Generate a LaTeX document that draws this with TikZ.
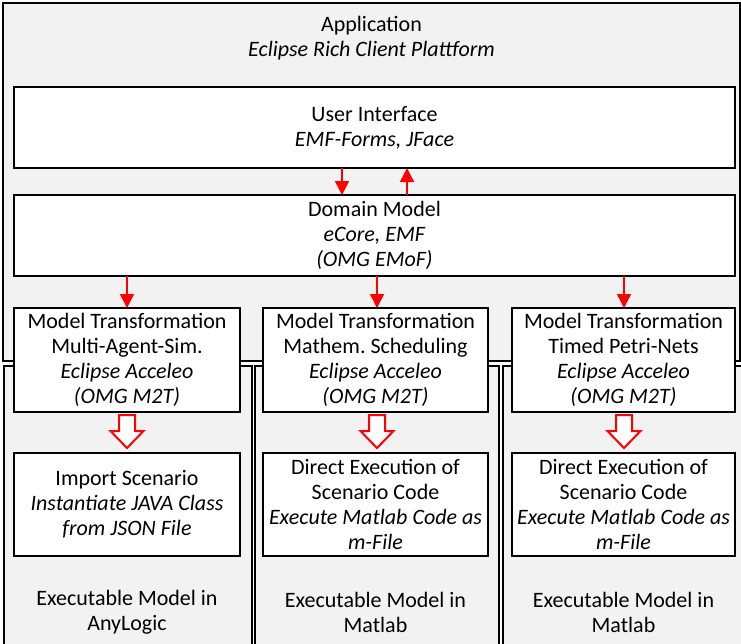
\documentclass[tikz,border=0pt]{standalone}
\usepackage{fontspec}
\setmainfont{Carlito}
\usetikzlibrary{arrows.meta,calc}
\definecolor{appgray}{HTML}{F2F2F2}
\definecolor{arrred}{HTML}{FF0000}
\frenchspacing
\begin{document}
\begin{tikzpicture}[x=1pt,y=-1pt,
  every node/.style={font=\fontsize{22}{25}\selectfont, align=center, inner sep=0pt, outer sep=0pt},
  frame/.style={draw=black, line width=2pt, fill=appgray},
  box/.style={draw=black, line width=2pt, fill=white},
  link/.style={draw=arrred, line width=1.5pt, -{Triangle[width=14pt,length=14pt]}},
  hollow/.style={draw=arrred, line width=2pt, fill=white, line join=miter},
  blockarrow/.pic={\draw[hollow] (-8,0) -- (8,0) -- (8,16) -- (16.5,16) -- (0,33) -- (-16.5,16) -- (-8,16) -- cycle;}]
\useasboundingbox (0,0) rectangle (741,643);
\clip (0,0) rectangle (741,643);
\fill[white] (0,0) rectangle (741,643);
% containers
\node[frame, minimum width=737, minimum height=358] (app) at (371.5,182) {};
\node (apptitle) at (371.5,38) {Application\\\textit{Eclipse Rich Client Plattform}};
\node[frame, minimum width=248, minimum height=300] (col1) at (128,516) {};
\node[frame, minimum width=244, minimum height=300] (col2) at (377,516) {};
\node[frame, minimum width=257, minimum height=300] (col3) at (631.5,516) {};
\node (lab1) at (127,612) {Executable Model in\\AnyLogic};
\node (lab2) at (375.5,612) {Executable Model in\\Matlab};
\node (lab3) at (623.5,612) {Executable Model in\\Matlab};
% boxes
\node[box, minimum width=721, minimum height=81] (ui) at (374.5,127.5) {User Interface\\\textit{EMF-Forms, JFace}};
\node[box, minimum width=721, minimum height=81] (dm) at (374.5,235.5) {Domain Model\\\textit{eCore, EMF}\\\textit{(OMG EMoF)}};
\node[box, minimum width=226, minimum height=104] (mt1) at (127,360) {Model Transformation\\Multi-Agent-Sim.\\\textit{Eclipse Acceleo}\\\textit{(OMG M2T)}};
\node[box, minimum width=225, minimum height=104] (mt2) at (375.5,360) {Model Transformation\\Mathem. Scheduling\\\textit{Eclipse Acceleo}\\\textit{(OMG M2T)}};
\node[box, minimum width=223, minimum height=104] (mt3) at (623.5,360) {Model Transformation\\Timed Petri-Nets\\\textit{Eclipse Acceleo}\\\textit{(OMG M2T)}};
\node[box, minimum width=226, minimum height=103] (ex1) at (127,504.5) {Import Scenario\\\textit{Instantiate JAVA Class}\\\textit{from JSON File}};
\node[box, minimum width=225, minimum height=103] (ex2) at (375.5,504.5) {Direct Execution of\\Scenario Code\\\textit{Execute Matlab Code as}\\\textit{m-File}};
\node[box, minimum width=223, minimum height=103] (ex3) at (623.5,504.5) {Direct Execution of\\Scenario Code\\\textit{Execute Matlab Code as}\\\textit{m-File}};
% connectors
\draw[link] ($(ui.south)+(-32.5,0)$) -- ($(dm.north)+(-32.5,0)$);
\draw[link] ($(dm.north)+(32.5,0)$) -- ($(ui.south)+(32.5,0)$);
\draw[link] (dm.south -| mt1.north) -- (mt1.north);
\draw[link] ($(dm.south -| mt2.north)+(1.5,0)$) -- ($(mt2.north)+(1.5,0)$);
\draw[link] ($(dm.south -| mt3.north)+(0.5,0)$) -- ($(mt3.north)+(0.5,0)$);
\pic at ($(mt1.south)+(0,3)$) {blockarrow};
\pic at ($(mt2.south)+(1.5,3)$) {blockarrow};
\pic at ($(mt3.south)+(0.5,3)$) {blockarrow};
\end{tikzpicture}
\end{document}
